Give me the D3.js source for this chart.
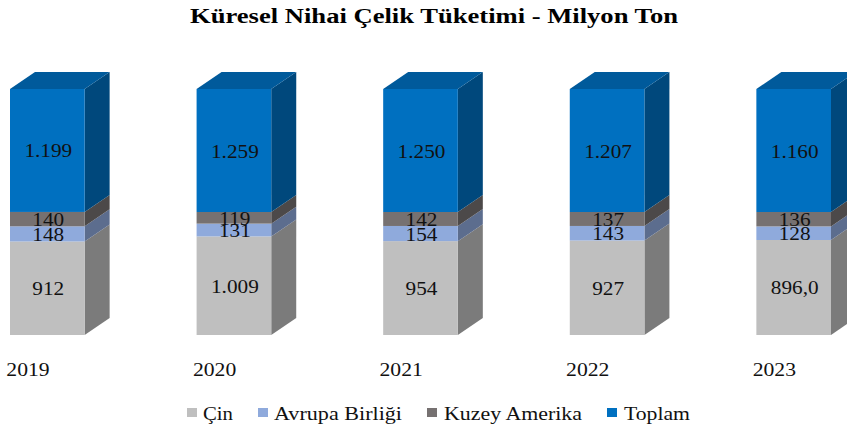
<!DOCTYPE html>
<html>
<head>
<meta charset="utf-8">
<script src="https://cdn.jsdelivr.net/npm/d3@7/dist/d3.min.js"></script>
<style>
    html, body { margin: 0; padding: 0; background: #fff; overflow: hidden; }
    svg { display: block; font-family: "Liberation Serif", serif; }
</style>
</head>
<body>
<svg id="chart" width="847" height="426"></svg>
<script>
var years = ["2019", "2020", "2021", "2022", "2023"];
var seriesNames = ["Çin", "Avrupa Birliği", "Kuzey Amerika", "Toplam"];
var cin = [912, 1009, 954, 927, 896];
var avrupa = [148, 131, 154, 143, 128];
var kuzey = [140, 119, 142, 137, 136];
var toplam = [1199, 1259, 1250, 1207, 1160];
var title = "Küresel Nihai Çelik Tüketimi - Milyon Ton";

var frontColors = ["#bfbfbf", "#8faadc", "#767171", "#0070c0"];
var sideColors = ["#7b7b7b", "#5c6d8e", "#4c4949", "#00487c"];
var topColor = "#005a9b";

var depthX = 25, depthY = 17;
var svg = d3.select("#chart");

// turkish number format, 1.199 and so on
var fmt = d3.formatLocale({ decimal: ",", thousands: ".", grouping: [3], currency: ["", ""] });
var intLabel = fmt.format(",d");
function label(s, i, v) {
    // the last Cin value is printed with one decimal in the source
    if (s === 0 && i === 4) return fmt.format(",.1f")(v);
    return intLabel(v);
}
// the source picture is stretched sideways, so widen the glyphs the same way
function stretch(sel, k) {
    sel.attr("textLength", function () { return this.getComputedTextLength() * k; })
        .attr("lengthAdjust", "spacingAndGlyphs");
}

var x = d3.scaleBand().domain(years).range([10, 831]).paddingInner(0.6).paddingOuter(0);
var y = d3.scaleLinear().domain([0, 1]).range([335, 89]);

var rows = years.map(function (yr, i) {
    return { year: yr, 0: cin[i], 1: avrupa[i], 2: kuzey[i], 3: toplam[i] };
});
var stacked = d3.stack().keys([0, 1, 2, 3]).offset(d3.stackOffsetExpand)(rows);

function points(arr) {
    return arr.map(function (p) { return p.join(","); }).join(" ");
}

var groups = svg.selectAll("g.serie").data(stacked).enter().append("g").attr("class", "serie");

groups.each(function (serie, s) {
    var g = d3.select(this);
    // side face
    g.selectAll("polygon.side").data(serie).enter().append("polygon")
        .attr("class", "side")
        .attr("fill", sideColors[s])
        .attr("points", function (d) {
            var r = x(d.data.year) + x.bandwidth();
            return points([[r, y(d[0])], [r + depthX, y(d[0]) - depthY], [r + depthX, y(d[1]) - depthY], [r, y(d[1])]]);
        });
    // front face
    g.selectAll("rect").data(serie).enter().append("rect")
        .attr("x", function (d) { return x(d.data.year); })
        .attr("y", function (d) { return y(d[1]); })
        .attr("width", x.bandwidth())
        .attr("height", function (d) { return y(d[0]) - y(d[1]); })
        .attr("fill", frontColors[s]);
    // top face only on the last serie
    if (s === 3) {
        g.selectAll("polygon.top").data(serie).enter().append("polygon")
            .attr("class", "top")
            .attr("fill", topColor)
            .attr("points", function (d) {
                var l = x(d.data.year), r = l + x.bandwidth(), t = y(d[1]);
                return points([[l, t], [l + depthX, t - depthY], [r + depthX, t - depthY], [r, t]]);
            });
    }
});

// value labels after all faces so they stay on top
groups.each(function (serie, s) {
    var t = d3.select(this).selectAll("text").data(serie).enter().append("text")
        .attr("x", function (d) { return x(d.data.year) + x.bandwidth() / 2 + 1; })
        .attr("y", function (d) { return (y(d[0]) + y(d[1])) / 2 + 7; })
        .attr("text-anchor", "middle")
        .attr("font-size", 18)
        .attr("fill", "#111")
        .text(function (d, i) { return label(s, i, d.data[s]); });
    stretch(t, 1.18);
});

// category axis
var axis = d3.axisBottom(x).tickSize(0).tickPadding(0);
var axisG = svg.append("g").attr("transform", "translate(0,363)").call(axis);
axisG.select(".domain").remove();
axisG.selectAll("text")
    .attr("font-family", "Liberation Serif")
    .attr("font-size", 18.5)
    .attr("fill", "#111")
    .attr("text-anchor", "start")
    .attr("dx", -41)
    .attr("dy", 13);
stretch(axisG.selectAll("text"), 1.17);

svg.append("text")
    .attr("x", 190).attr("y", 23)
    .attr("font-size", 20)
    .attr("font-weight", "bold")
    .attr("fill", "#000")
    .attr("textLength", 488)
    .attr("lengthAdjust", "spacingAndGlyphs")
    .text(title);

// legend
var legendSquare = [187, 258, 427, 607];
var legendText = [203, 274, 444, 624];
var legendLen = [30, 128, 138, 66];
var legend = svg.selectAll("g.legend").data(seriesNames).enter().append("g").attr("class", "legend");
legend.append("rect")
    .attr("x", function (d, i) { return legendSquare[i]; })
    .attr("y", 408).attr("width", 10).attr("height", 9)
    .attr("fill", function (d, i) { return frontColors[i]; });
legend.append("text")
    .attr("x", function (d, i) { return legendText[i]; })
    .attr("y", 420)
    .attr("font-size", 18)
    .attr("fill", "#111")
    .attr("textLength", function (d, i) { return legendLen[i]; })
    .attr("lengthAdjust", "spacingAndGlyphs")
    .text(function (d) { return d; });
</script>
</body>
</html>
